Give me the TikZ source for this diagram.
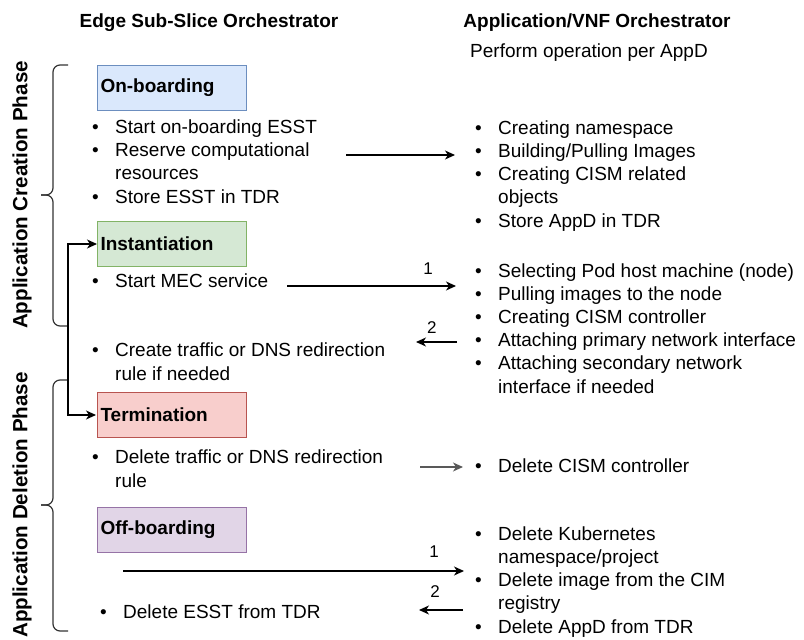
\documentclass[tikz,border=0pt]{standalone}
\usepackage{fontspec}
\setmainfont{Liberation Sans}
\usepackage{tikz}
\usetikzlibrary{
        arrows.meta,
        positioning
    }
\tikzset{>={Stealth[length=10pt,width=9pt,inset=3pt]},shorten >=1pt,auto,node distance=2cm}
\tikzset{
    phase/.style={draw,line width=1pt,minimum width=149pt,minimum height=45pt,inner sep=3pt,
        text width=143pt,align=left,anchor=north west,font=\fontsize{19}{23}\selectfont\bfseries},
    items/.style={anchor=base west,inner sep=0pt,align=left,font=\fontsize{19}{23.2}\selectfont},
    title/.style={anchor=base,inner sep=0pt,font=\fontsize{19}{23}\selectfont\bfseries},
    num/.style={inner sep=0pt,font=\fontsize{17}{20}\selectfont},
    phaselabel/.style={rotate=90,inner sep=0pt,font=\fontsize{20.6}{24}\selectfont\bfseries},
    curly/.style={rounded corners=7pt,draw=black!80,line width=1.2pt},
    flow/.style={->,line width=1.2pt}
}
\definecolor{obfill}{HTML}{DAE8FC}\definecolor{obline}{HTML}{6C8EBF}
\definecolor{infill}{HTML}{D5E8D4}\definecolor{inline}{HTML}{82B366}
\definecolor{tefill}{HTML}{F8CECC}\definecolor{teline}{HTML}{B85450}
\definecolor{offill}{HTML}{E1D5E7}\definecolor{ofline}{HTML}{9673A6}
\newcommand{\bul}{\makebox[23pt][l]{\textbullet}}
\newcommand{\nob}{\hspace*{23pt}}

\begin{document}
\begin{tikzpicture}[x=1pt,y=-1pt]
                    \useasboundingbox (0,0) rectangle (804,640);

                    \node[title] (esso) at (209,27) {Edge Sub-Slice Orchestrator};
                    \node[title] (appo) at (597,27) {Application/VNF Orchestrator};
                    \node[title,font=\fontsize{19}{23}\selectfont] (perop) at (589,57) {Perform operation per AppD};

                    \node[phase,fill=obfill,draw=obline] (onb)  at (97,65)  {On-boarding};
                    \node[phase,fill=infill,draw=inline] (inst) at (97,221) {Instantiation};
                    \node[phase,fill=tefill,draw=teline] (term) at (97,392) {Termination};
                    \node[phase,fill=offill,draw=ofline] (offb) at (97,507) {Off-boarding};

                    \node[items] (onbL)  at (92,203) {\bul Start on-boarding ESST\\ \bul Reserve computational\\ \nob resources\\ \bul Store ESST in TDR};
                    \node[items] (instL) at (92,287) {\bul Start MEC service};
                    \node[items] (dnsL)  at (92,380) {\bul Create traffic or DNS redirection\\ \nob rule if needed};
                    \node[items] (termL) at (92,487) {\bul Delete traffic or DNS redirection\\ \nob rule};
                    \node[items] (offL)  at (100,618) {\bul Delete ESST from TDR};

                    \node[items] (appL1) at (475,227) {\bul Creating namespace\\ \bul Building/Pulling Images\\ \bul Creating CISM related\\ \nob objects\\ \bul Store AppD in TDR};
                    \node[items] (appL2) at (475,393) {\bul Selecting Pod host machine (node)\\ \bul Pulling images to the node\\ \bul Creating CISM controller\\ \bul Attaching primary network interface\\ \bul Attaching secondary network\\ \nob interface if needed};
                    \node[items] (appL3) at (475,472) {\bul Delete CISM controller};
                    \node[items] (appL4) at (475,633) {\bul Delete Kubernetes\\ \nob namespace/project\\ \bul Delete image from the CIM\\ \nob registry\\ \bul Delete AppD from TDR};

                    \node[phaselabel] (crph) at (22,195) {Application Creation Phase};
                    \node[phaselabel] (deph) at (22,505) {Application Deletion Phase};
                    \draw[curly] (68,65) -| (53,195) -- (40,195);
                    \draw[curly] (68,326) -| (53,195) -- (40,195);
                    \draw[curly] (68,380) -| (53,505) -- (40,505);
                    \draw[curly] (68,631) -| (53,505) -- (40,505);

                    \coordinate (onbA) at (346,155); \coordinate (onbB) at (456,155);
                    \coordinate (insA) at (287,286); \coordinate (insB) at (457,286);
                    \coordinate (insC) at (457,342); \coordinate (insD) at (415,342);
                    \coordinate (terA) at (420,467); \coordinate (terB) at (464,467);
                    \coordinate (offA) at (123,571); \coordinate (offB) at (465,571);
                    \coordinate (offC) at (463,610); \coordinate (offD) at (418,610);

                    \path[flow]
                            (onbA) edge (onbB)
                            (insA) edge node[num,pos=.83,above=11pt] {1} (insB)
                            (insC) edge node[num,pos=.6,above=8pt] {2} (insD)
                            (terA) edge[draw=black!65] (terB)
                            (offA) edge node[num,pos=.91,above=13pt] {1} (offB)
                            (offC) edge node[num,pos=.62,above=12pt] {2} (offD)
                            ;
                    \draw[<->,line width=1.2pt] (inst.west) -- ++(-29,0) |- (term.west);
                    \end{tikzpicture}
\end{document}
